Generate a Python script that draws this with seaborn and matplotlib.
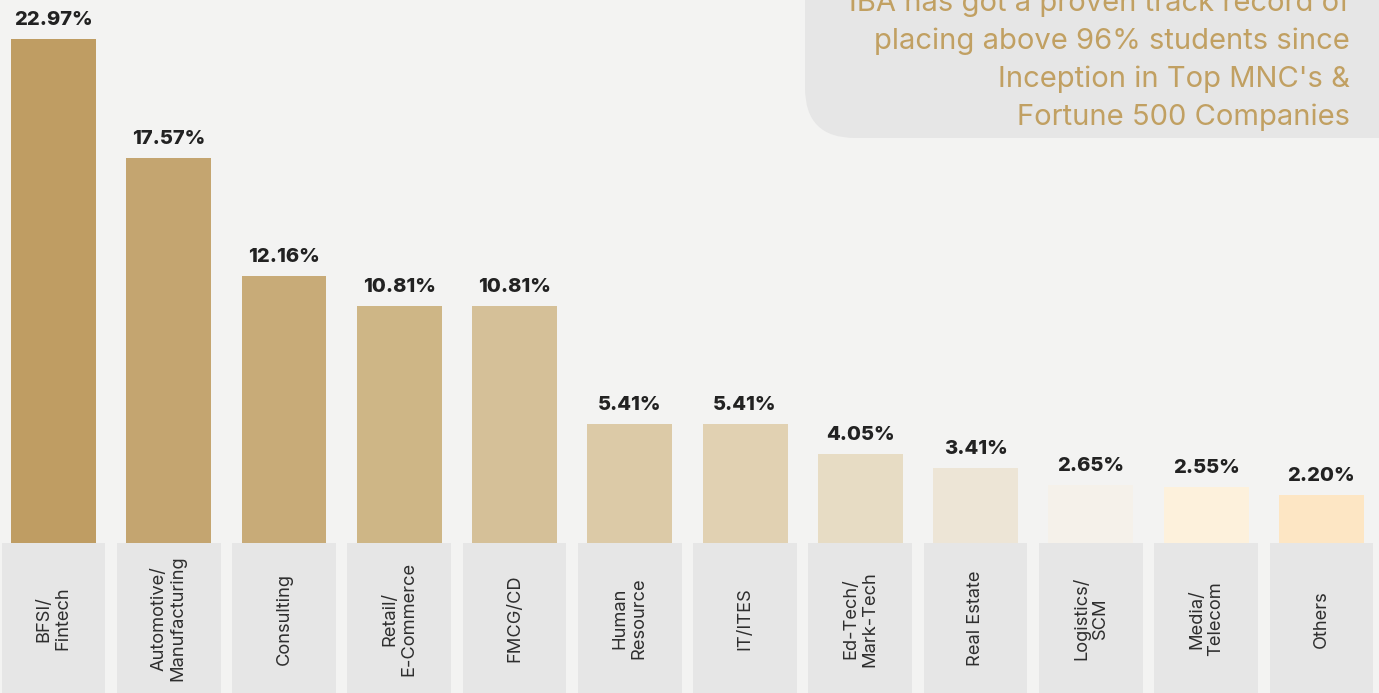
import seaborn as sns
import matplotlib.pyplot as plt
import pandas as pd
from matplotlib.patches import FancyBboxPatch

# placement share by sector (%)
sectors = ['BFSI/\nFintech', 'Automotive/\nManufacturing', 'Consulting', 'Retail/\nE-Commerce',
           'FMCG/CD', 'Human\nResource', 'IT/ITES', 'Ed-Tech/\nMark-Tech', 'Real Estate',
           'Logistics/\nSCM', 'Media/\nTelecom', 'Others']
share = [22.97, 17.57, 12.16, 10.81, 10.81, 5.41, 5.41, 4.05, 3.41, 2.65, 2.55, 2.20]
bar_colors = ['#bf9d63', '#c4a570', '#c8ab78', '#ceb686', '#d5c098', '#dccaa7', '#e1d1b2',
              '#e7dcc4', '#ede5d6', '#f5f1ea', '#fdf1dc', '#fde6c4']
note_lines = ["IBA has got a proven track record of", "placing above 96% students since",
              "Inception in Top MNC's &", "Fortune 500 Companies"]

df = pd.DataFrame({'Sector': sectors, 'Share': share})

sns.set_style("white")
plt.rcParams['font.family'] = ['Inter', 'DejaVu Sans']

fig = plt.figure(figsize=(13.79, 6.93), dpi=100)
fig.patch.set_facecolor('#f3f3f2')
ax = fig.add_axes([0, 0, 1, 1])
ax.set_facecolor('#f3f3f2')

sns.barplot(x='Sector', y='Share', data=df, hue='Sector', palette=bar_colors,
            legend=False, width=0.737, ax=ax, saturation=1, linewidth=0)

# grey label boxes under each bar
ax.bar(range(len(sectors)), [-8] * len(sectors), width=0.9, color='#e6e6e6',
       linewidth=0, zorder=3)

for i, (s, v) in enumerate(zip(sectors, share)):
    ax.text(i, v + 0.45, f'{v:.2f}%', ha='center', va='bottom', fontsize=14.5,
            fontweight='heavy', color='#222222', zorder=4)
    ax.text(i, -3.45, s, ha='center', va='center', rotation=90, fontsize=13.2,
            color='#2e2e2e', linespacing=1.15, multialignment='center', zorder=4)

ax.set_xlim(-0.464, 11.50)
ax.set_ylim(-6.84, 24.75)
ax.axis('off')

# note box in the top right corner
ov = fig.add_axes([0, 0, 1, 1], zorder=5)
ov.set_xlim(0, 1379)
ov.set_ylim(693, 0)
ov.axis('off')
ov.patch.set_alpha(0)
ov.add_patch(FancyBboxPatch((805, -100), 700, 238, boxstyle='round,pad=0,rounding_size=50',
                            facecolor='#e6e6e6', edgecolor='none'))
for k, line in enumerate(note_lines):
    ov.text(1350, 3 + 38 * k, line, ha='right', va='center', fontsize=21, color='#c1a062')

fig.savefig('out.png', dpi=100, facecolor=fig.get_facecolor())
